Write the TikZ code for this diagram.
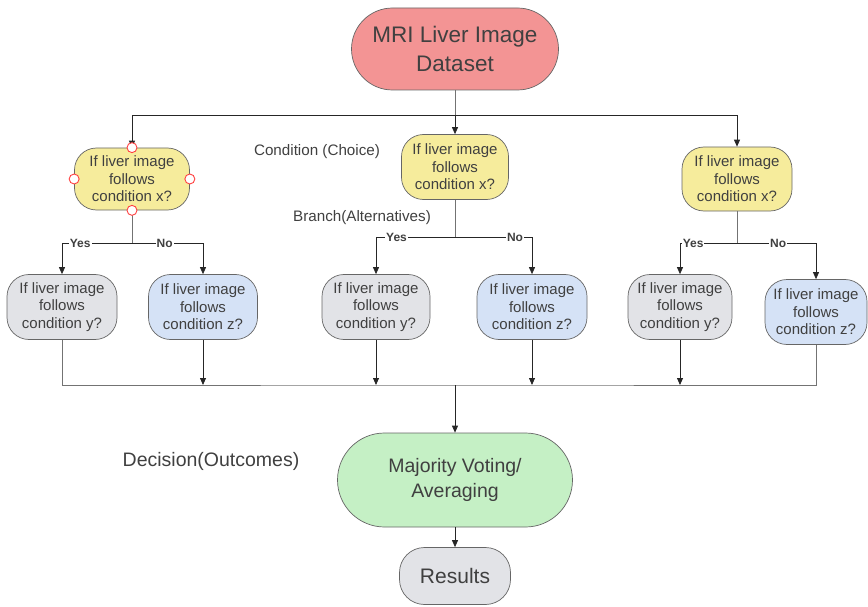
\documentclass[tikz,border=0pt]{standalone}
\usepackage{fontspec}
\setmainfont{Liberation Sans}
\usetikzlibrary{arrows.meta}
\definecolor{cred}{HTML}{F39494}
\definecolor{cyel}{HTML}{F6EC9C}
\definecolor{cgry}{HTML}{E2E3E7}
\definecolor{cblu}{HTML}{D5E2F6}
\definecolor{cgrn}{HTML}{C5F0C5}
\definecolor{ctxt}{HTML}{404040}
\begin{document}
\begin{tikzpicture}[x=1pt,y=-1pt,
  box/.style={draw=black!60, line width=0.7pt, rounded corners=22pt, align=center, text=ctxt,
    font=\fontsize{15}{17.5}\selectfont, inner sep=0pt, minimum height=65pt},
  arr/.style={-{Triangle[length=7pt,width=6pt]}, black!85, line width=0.8pt},
  ln/.style={black!55, line width=0.8pt},
  yn/.style={fill=white, inner sep=1pt, text=ctxt, font=\fontsize{12}{13}\selectfont\bfseries},
  lbl/.style={text=ctxt, inner sep=0pt},
  handle/.style={circle, draw=red!75, fill=white, line width=0.9pt, minimum size=10pt, inner sep=0pt}]
\useasboundingbox (0,0) rectangle (868,607);

% top
\node[box, fill=cred, minimum width=207pt, minimum height=82pt, rounded corners=41pt,
  font=\fontsize{22.5}{29}\selectfont] (top) at (455,49) {MRI Liver Image\\Dataset};

% condition nodes
\node[box, fill=cyel, minimum width=115pt, minimum height=62pt] (yl) at (132,179) {If liver image\\follows\\condition x?};
\node[box, fill=cyel, minimum width=107pt, minimum height=65pt] (ym) at (455,167) {If liver image\\follows\\condition x?};
\node[box, fill=cyel, minimum width=110pt, minimum height=64pt] (yr) at (737,179) {If liver image\\follows\\condition x?};

% second level
\node[box, fill=cgry, minimum width=110pt] (gl) at (62,307) {If liver image\\follows\\condition y?};
\node[box, fill=cblu, minimum width=109pt] (bl) at (203,307) {If liver image\\follows\\condition z?};
\node[box, fill=cgry, minimum width=108pt] (gm) at (376,307) {If liver image\\follows\\condition y?};
\node[box, fill=cblu, minimum width=110pt] (bm) at (532,307) {If liver image\\follows\\condition z?};
\node[box, fill=cgry, minimum width=104pt] (gr) at (680,307) {If liver image\\follows\\condition y?};
\node[box, fill=cblu, minimum width=102pt] (br) at (816,312) {If liver image\\follows\\condition z?};

% decision
\node[box, fill=cgrn, minimum width=235pt, minimum height=94pt, rounded corners=47pt,
  font=\fontsize{19.5}{25}\selectfont] (vote) at (455,480) {Majority Voting/\\Averaging};
\node[box, fill=cgry, minimum width=111pt, minimum height=57pt, rounded corners=25pt,
  font=\fontsize{21}{24}\selectfont] (res) at (455,576) {Results};

% side labels
\node[lbl, font=\fontsize{15.2}{17}\selectfont] (c1) at (317,152) {Condition (Choice)};
\node[lbl, font=\fontsize{15.2}{17}\selectfont] (c2) at (362,218) {Branch(Alternatives)};
\node[lbl, font=\fontsize{19.5}{22}\selectfont] (c3) at (211,461) {Decision(Outcomes)};

% top distribution
\coordinate (t1) at (455,115);
\draw[ln] (top.south) -- (t1);
\draw[arr] (t1) -| (yl.north);
\draw[arr] (t1) -| (yr.north);
\draw[arr] (t1) -- (ym.north);

% branches
\draw[ln] (yl.south) -- (yl.south |- 0,243) coordinate (jl);
\draw[arr] (jl) -| node[yn, pos=0.37]{Yes} (gl.north);
\draw[arr] (jl) -| node[yn, pos=0.23]{No} (bl.north);

\draw[ln] (ym.south) -- (ym.south |- 0,237) coordinate (jm);
\draw[arr] (jm) -| node[yn, pos=0.37]{Yes} (gm.north);
\draw[arr] (jm) -| node[yn, pos=0.39]{No} (bm.north);

\draw[ln] (yr.south) -- (yr.south |- 0,243) coordinate (jr);
\draw[arr] (jr) -| node[yn, pos=0.385]{Yes} (gr.north);
\draw[arr] (jr) -| node[yn, pos=0.26]{No} (br.north);

% collection
\coordinate (bot) at (455,385);
\draw[ln] (gl.south) |- (bot) -| (br.south);
\draw[arr] (bl.south) -- (bl.south |- bot);
\draw[arr] (gm.south) -- (gm.south |- bot);
\draw[arr] (bm.south) -- (bm.south |- bot);
\draw[arr] (gr.south) -- (gr.south |- bot);
\draw[arr] (bot) -- (vote.north);
\draw[arr] (vote.south) -- (res.north);

% selection handles
\node[handle] (h1) at (yl.north) {};
\node[handle] (h2) at (yl.south) {};
\node[handle] (h3) at (yl.west) {};
\node[handle] (h4) at (yl.east) {};
\end{tikzpicture}
\end{document}
